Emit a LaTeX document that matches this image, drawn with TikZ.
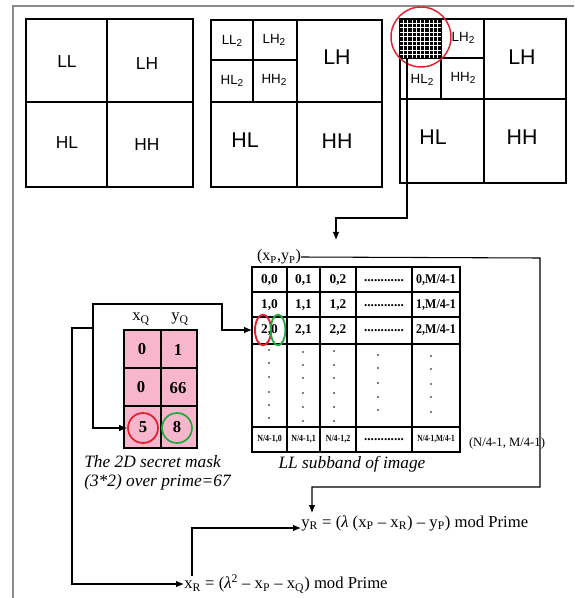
\documentclass[tikz,border=0pt]{standalone}
\usepackage{fontspec}
\setmainfont{Liberation Serif}
\newfontfamily\arialf{Liberation Sans}
\usetikzlibrary{arrows.meta,shapes.geometric}
\definecolor{maskpink}{RGB}{248,182,205}
\definecolor{cred}{RGB}{228,32,44}
\definecolor{cgreen}{RGB}{34,170,64}
\newcommand\subtwo{\raisebox{-1.5pt}{\fontsize{7.5}{8}\selectfont 2}}
\begin{document}
\begin{tikzpicture}[x=0.75pt,y=-0.75pt,
  gridl/.style={line width=1.3pt},
  frame/.style={draw=gray!90, line width=1.3pt},
  conn/.style={line width=0.8pt, -{Latex[length=6pt,width=5pt]}},
  lab/.style={font=\arialf\fontsize{13}{15}\selectfont, inner sep=0pt},
  biglab/.style={font=\arialf\fontsize{16}{18}\selectfont, inner sep=0pt},
  smlab/.style={font=\arialf\fontsize{10}{12}\selectfont, inner sep=0pt},
  cellt/.style={font=\bfseries\fontsize{10}{11}\selectfont, inner sep=0pt},
  tinyt/.style={font=\bfseries\fontsize{7}{8}\selectfont, inner sep=0pt},
  maskt/.style={font=\bfseries\fontsize{12.5}{14}\selectfont, inner sep=0pt},
  serift/.style={font=\fontsize{12}{14}\selectfont, inner sep=0pt},
  itt/.style={font=\itshape\fontsize{13}{14.5}\selectfont, inner sep=0pt},
  redc/.style={draw=cred, line width=1.3pt, circle, inner sep=0pt},
  greenc/.style={draw=cgreen, line width=1.3pt, circle, inner sep=0pt},
]
\useasboundingbox (0,0) rectangle (574,598);
% frame
\draw[frame] (13,598) -- (13,6) -- (574,6);

% ---------- box 1
\draw[gridl] (26,19) rectangle (193,187);
\draw[gridl] (107,19) -- (107,187) (26,102) -- (193,102);
\node[lab] (b1ll) at (67,62) {LL};
\node[lab] (b1lh) at (147,64) {LH};
\node[lab] (b1hl) at (67,143) {HL};
\node[lab] (b1hh) at (147,145) {HH};

% ---------- box 2
\draw[gridl] (211,20) rectangle (382,187);
\draw[gridl] (297,20) -- (297,187) (211,102) -- (382,102);
\draw[gridl] (253,20) -- (253,102) (211,60) -- (297,60);
\node[smlab] (b2ll2) at (232,41) {LL\subtwo};
\node[smlab] (b2lh2) at (274,40) {LH\subtwo};
\node[smlab] (b2hl2) at (232,81) {HL\subtwo};
\node[smlab] (b2hh2) at (274,80) {HH\subtwo};
\node[biglab] (b2lh) at (337,57) {LH};
\node[biglab] (b2hl) at (245,140) {HL};
\node[biglab] (b2hh) at (337,141) {HH};

% ---------- box 3
\draw[gridl] (400,19) rectangle (566,183);
\draw[gridl] (484,19) -- (484,183) (400,99) -- (566,99);
\draw[gridl] (441,19) -- (441,99) (400,58) -- (484,58);
\fill[black] (399,19) rectangle (442,59);
\foreach \i in {1,...,9} {
  \draw[white, line width=0.6pt] (399+4.3*\i,20) -- (399+4.3*\i,58);
}
\foreach \j in {1,...,8} {
  \draw[white, line width=0.6pt] (400,19+4.45*\j) -- (441,19+4.45*\j);
}
\node[redc, line width=1.1pt, minimum size=45pt] (zoomc) at (421,37) {};
\coordinate (gridbot) at (407,59);
\node[smlab] (b3lh2) at (463,38) {LH\subtwo};
\node[smlab] (b3hl2) at (422,80) {HL\subtwo};
\node[smlab] (b3hh2) at (463,78) {HH\subtwo};
\node[biglab] (b3lh) at (522,57) {LH};
\node[biglab] (b3hl) at (433,137) {HL};
\node[biglab] (b3hh) at (522,137) {HH};

% ---------- LL subband table
\draw[gridl] (252,267) rectangle (460,452);
\foreach \xx in {287,320,356,412} \draw[gridl] (\xx,267) -- (\xx,452);
\foreach \yy in {292,317,344,427} \draw[gridl] (252,\yy) -- (460,\yy);
\node[serift] (pp) at (279,257) {(x\textsubscript{P},y\textsubscript{P})};
\node[cellt] (t00) at (269.5,280) {0,0};
\node[cellt] (t01) at (303.5,280) {0,1};
\node[cellt] (t02) at (338,280) {0,2};
\node[cellt] (t03) at (384,281) {............};
\node[cellt] (t04) at (436,280) {\scalebox{0.9}[1]{0,M/4-1}};
\node[cellt] (t10) at (269.5,305) {1,0};
\node[cellt] (t11) at (303.5,305) {1,1};
\node[cellt] (t12) at (338,305) {1,2};
\node[cellt] (t13) at (384,306) {............};
\node[cellt] (t14) at (436,305) {\scalebox{0.9}[1]{1,M/4-1}};
\node[cellt] (t20) at (269.5,330) {2,0};
\node[cellt] (t21) at (303.5,330) {2,1};
\node[cellt] (t22) at (338,330) {2,2};
\node[cellt] (t23) at (384,331) {............};
\node[cellt] (t24) at (436,330) {\scalebox{0.9}[1]{2,M/4-1}};
\node[tinyt] (tn0) at (269.5,439) {\scalebox{0.85}[1]{N/4-1,0}};
\node[tinyt] (tn1) at (303.5,439) {\scalebox{0.85}[1]{N/4-1,1}};
\node[tinyt] (tn2) at (338,439) {\scalebox{0.85}[1]{N/4-1,2}};
\node[cellt] (tn3) at (384,440) {............};
\node[tinyt] (tn4) at (436,439) {\scalebox{0.78}[1]{N/4-1,M/4-1}};
\foreach \y in {350,363,377,392,405,418} \fill (269,\y) circle (0.9);
\foreach \y in {352,365,378,393,407,421} \fill (303,\y) circle (0.9);
\foreach \y in {351,365,378,393,407,421} \fill (334,\y) circle (0.9);
\foreach \y in {355,368,383,397,410} \fill (378,\y) circle (0.9);
\foreach \y in {356,369,384,397,412} \fill (431,\y) circle (0.9);
\node[draw=cred, line width=1.4pt, ellipse, minimum width=12pt, minimum height=23pt, inner sep=0pt] (e2) at (263,330) {};
\node[draw=cgreen, line width=1.4pt, ellipse, minimum width=11pt, minimum height=23pt, inner sep=0pt] (e0) at (278,330) {};
\node[font=\fontsize{9.5}{11}\selectfont, inner sep=0pt] (nm) at (507,443) {(N/4-1, M/4-1)};
\node[itt] (llcap) at (352,464) {LL subband of image};

% ---------- mask
\fill[maskpink] (124,330) rectangle (197,448);
\draw[gridl] (124,330) rectangle (197,448);
\draw[gridl] (161,330) -- (161,448) (124,368) -- (197,368) (124,406) -- (197,406);
\node[serift, font=\fontsize{12.5}{14}\selectfont] (hx) at (141,319) {x\textsubscript{Q}};
\node[serift, font=\fontsize{12.5}{14}\selectfont] (hy) at (180,319) {y\textsubscript{Q}};
\node[maskt] (m00) at (142,349) {0};
\node[maskt] (m01) at (178,350) {1};
\node[maskt] (m10) at (141,387) {0};
\node[maskt] (m11) at (178,388) {66};
\node[maskt] (m20) at (143,427) {5};
\node[maskt] (m21) at (177,427) {8};
\node[redc, minimum size=22.5pt] (c5) at (143,428) {};
\node[greenc, minimum size=22.5pt] (c8) at (177,428) {};
\node[itt, align=left, anchor=north west] (maskcap) at (84,455) {The 2D secret mask\\(3*2) over prime=67};

% ---------- equations
\node[serift, font=\fontsize{12.5}{14}\selectfont, anchor=west] (yR) at (301,523)
  {y\textsubscript{R} = (\textit{λ} (x\textsubscript{P} – x\textsubscript{R}) – y\textsubscript{P}) mod Prime};
\node[serift, font=\fontsize{12.5}{14}\selectfont, anchor=west] (xR) at (184,584)
  {x\textsubscript{R} = (\textit{λ}\textsuperscript{2} – x\textsubscript{P} – x\textsubscript{Q}) mod Prime};

% ---------- connectors
\coordinate (tin) at (252,330);
\coordinate (yRtop) at (312,513);
\coordinate (xRtop) at (192,576);
\coordinate (branch) at (93,328);
\draw[conn] (gridbot) -- (407,218) -- (336,218) -- (336,240) coordinate (tabtop);
\draw[conn] (pp.east) -- (540,258) -- (540,487) -- (312,487) -- (yRtop);
\draw[line width=0.8pt, {Latex[length=6pt,width=5pt]}-{Latex[length=6pt,width=5pt]}]
  (c5.west) -- (93,428) -- (93,304) -- (222,304) -- (222,330) -- (tin);
\draw[conn] (branch) -- (72,328) -- (72,584) -- (xR.west);
\draw[conn] (xRtop) -- (192,528) -- (yR.west |- 0,528);
\end{tikzpicture}
\end{document}
